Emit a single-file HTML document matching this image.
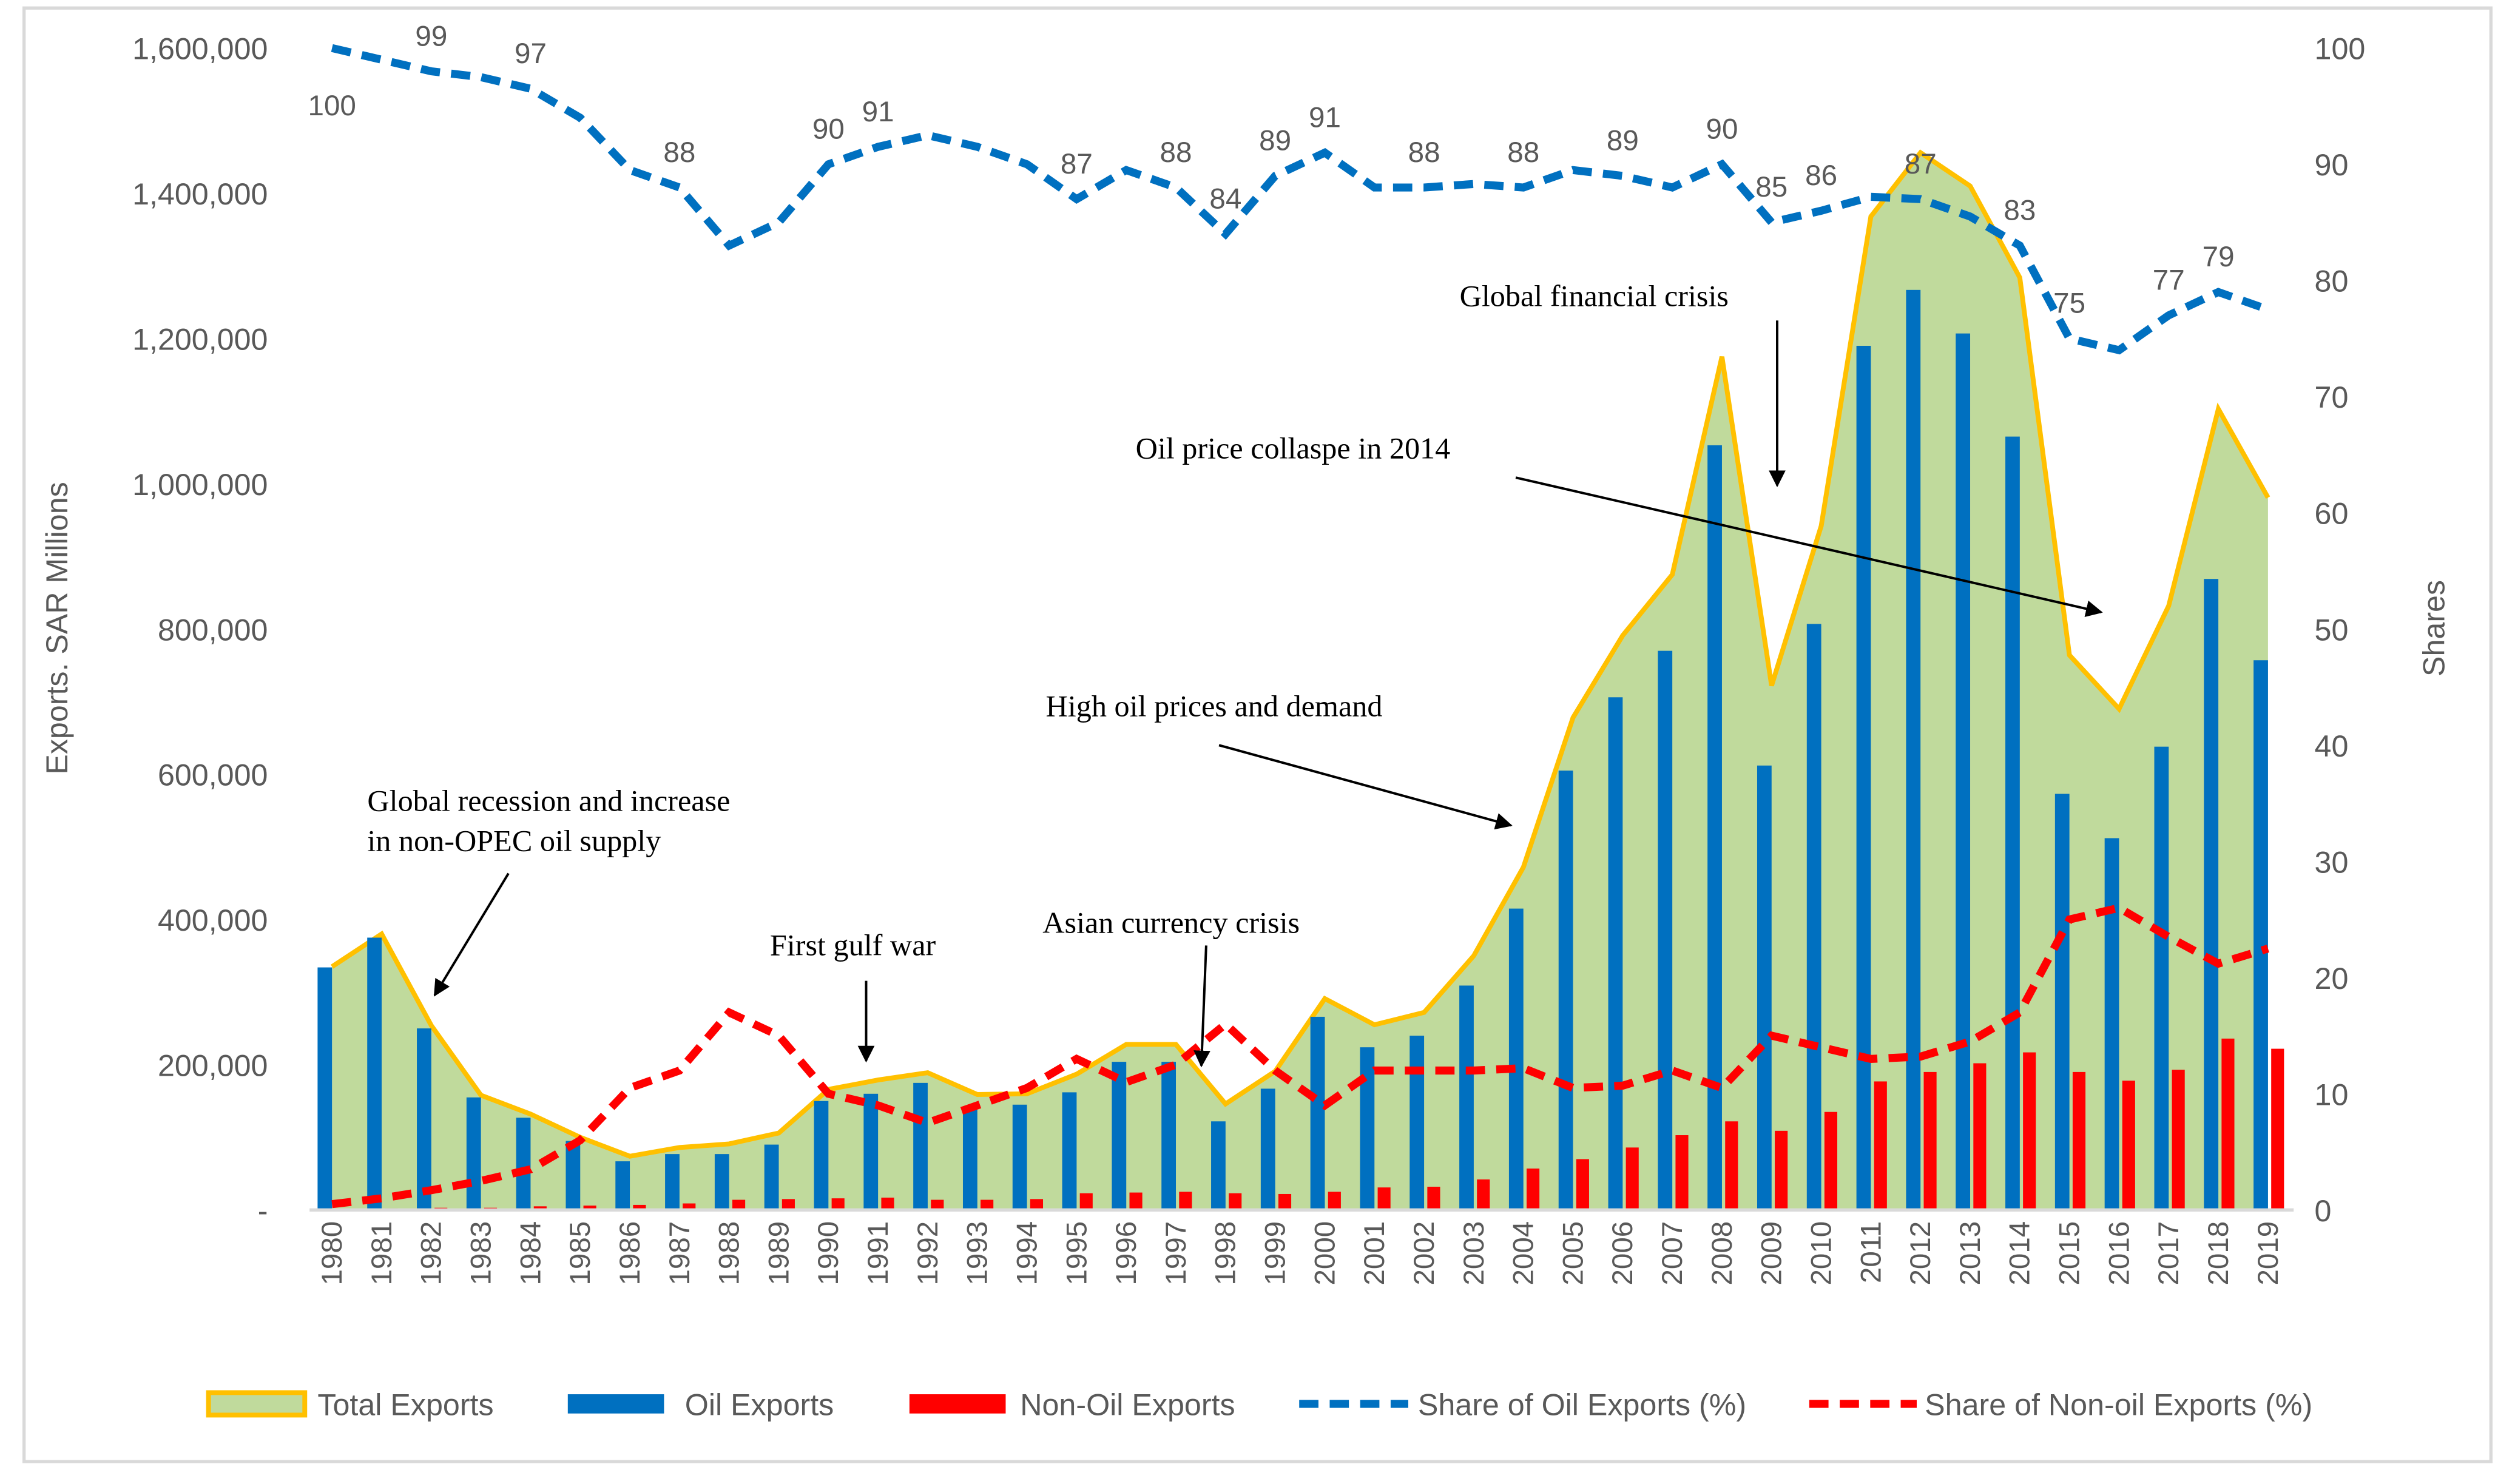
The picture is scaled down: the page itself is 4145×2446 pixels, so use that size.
<!DOCTYPE html>
<html><head><meta charset="utf-8"><style>
html,body{margin:0;padding:0;background:#fff;}
svg{display:block;}
.tk{font-family:"Liberation Sans",sans-serif;font-size:19px;fill:#595959;}
.xk{font-family:"Liberation Sans",sans-serif;font-size:18px;fill:#595959;}
.an{font-family:"Liberation Serif",serif;font-size:19px;fill:#000;}
.lg{font-family:"Liberation Sans",sans-serif;font-size:19px;fill:#595959;}
</style></head><body>
<svg id="chart" width="4145" height="2446" viewBox="0 0 1568 926" preserveAspectRatio="none" xmlns="http://www.w3.org/2000/svg">
<defs><marker id="ar" viewBox="0 0 10 10" refX="9" refY="5" markerWidth="7" markerHeight="7" orient="auto"><path d="M0,0L10,5L0,10z" fill="#000"/></marker></defs>
<rect x="15" y="5" width="1538" height="907" fill="#fff" stroke="#d9d9d9" stroke-width="2"/>
<g id="plot"></g>
<g>
<text class="an" x="229" y="506">Global recession and increase</text>
<text class="an" x="229" y="531">in non-OPEC oil supply</text>
<line x1="317" y1="545" x2="271" y2="621" stroke="#000" stroke-width="1.5" marker-end="url(#ar)"/>
<text class="an" x="480" y="596">First gulf war</text>
<line x1="540" y1="612" x2="540" y2="662" stroke="#000" stroke-width="1.5" marker-end="url(#ar)"/>
<text class="an" x="650" y="582">Asian currency crisis</text>
<line x1="752" y1="590" x2="749" y2="665" stroke="#000" stroke-width="1.5" marker-end="url(#ar)"/>
<text class="an" x="652" y="447">High oil prices and demand</text>
<line x1="760" y1="465" x2="942" y2="515" stroke="#000" stroke-width="1.5" marker-end="url(#ar)"/>
<text class="an" x="708" y="286">Oil price collaspe in 2014</text>
<line x1="945" y1="298" x2="1310" y2="382" stroke="#000" stroke-width="1.5" marker-end="url(#ar)"/>
<text class="an" x="910" y="191">Global financial  crisis</text>
<line x1="1108" y1="200" x2="1108" y2="303" stroke="#000" stroke-width="1.5" marker-end="url(#ar)"/>
</g>
<text class="tk" transform="translate(42,392) rotate(-90)" text-anchor="middle" style="font-size:19px">Exports. SAR Millions</text>
<text class="tk" transform="translate(1524,392) rotate(-90)" text-anchor="middle" style="font-size:19px">Shares</text>
<g>
<g><rect x="130" y="869" width="60" height="14" fill="#c0da9c" stroke="#ffc000" stroke-width="3"/><text class="lg" x="198" y="883">Total Exports</text></g>
<g><rect x="354" y="870" width="60" height="12" fill="#0070c0"/><text class="lg" x="427" y="883">Oil Exports</text></g>
<g><rect x="567" y="870" width="60" height="12" fill="#ff0000"/><text class="lg" x="636" y="883">Non-Oil Exports</text></g>
<g><line x1="810" y1="876" x2="878" y2="876" stroke="#0070c0" stroke-width="5" stroke-dasharray="12,7"/><text class="lg" x="884" y="883">Share of Oil Exports (%)</text></g>
<g><line x1="1128" y1="876" x2="1195" y2="876" stroke="#ff0000" stroke-width="5" stroke-dasharray="12,7"/><text class="lg" x="1200" y="883">Share of Non-oil Exports (%)</text></g>
</g>
</svg>
<script>
const years=[];for(let y=1980;y<=2019;y++)years.push(String(y));
const totalExports=[335,380,254,158,132,100,74,86,91,106,166,179,189,159,160,187,228,228,146,191,291,255,272,350,472,678,791,875,1175,722,942,1368,1456,1410,1284,764,690,832,1103,981];
const oilExports=[334,375,250,155,127,95,67,77,77,90,150,160,175,140,145,162,204,204,122,167,266,224,240,309,415,605,706,770,1053,612,807,1190,1267,1207,1065,573,512,638,869,757];
const nonOilExports=[1,2,3,3,5,6,7,9,14,15,16,17,14,14,15,23,24,25,23,22,25,31,32,42,57,70,86,103,122,109,135,177,190,202,217,190,178,193,236,222];
const oilShare=[100,99,98,97.5,96.5,94,89.5,88,83,85,90,91.5,92.5,91.5,90,87,89.5,88,84,89,91,88,88,88.3,88,89.5,89,88,90,85,86,87.2,87,85.5,83,75,74,77,79,77.5];
const nonOilShare=[0.5,1,1.7,2.5,3.5,6,10.5,12,17,15,10,9,7.5,9,10.5,13,11,12.5,16,12,9,12,12,12,12.2,10.5,10.7,12,10.5,15,14,13,13.2,14.5,17,25,26,23.5,21.2,22.5];
const shareLabelYears=["1980","1982","1984","1987","1990","1991","1995","1997","1998","1999","2000","2002","2004","2006","2008","2009","2010","2012","2014","2015","2017","2018"];
const shareLabelText=["100","99","97","88","90","91","87","88","84","89","91","88","88","89","90","85","86","87","83","75","77","79"];
const leftTicks=[0,200,400,600,800,1000,1200,1400,1600];
const rightTicks=[0,10,20,30,40,50,60,70,80,90,100];

const NS="http://www.w3.org/2000/svg";
const g=document.getElementById('plot');
const X0=207,X1=1414,Y0=755,Y1=30,PL=193,PR=1430;
const xs=i=>X0+i*(X1-X0)/(years.length-1);
const yL=v=>Y0-(v/1600)*(Y0-Y1);
const yR=v=>Y0-(v/100)*(Y0-Y1);
function mk(t,a){const e=document.createElementNS(NS,t);for(const k in a)e.setAttribute(k,a[k]);g.appendChild(e);return e;}
const fmt=v=>v===0?"-":(v*1000).toLocaleString('en-US');
leftTicks.forEach(v=>{const t=mk('text',{x:167,y:yL(v)+7,'text-anchor':'end',class:'tk'});t.textContent=fmt(v);

});
rightTicks.forEach(v=>{const t=mk('text',{x:1443,y:yR(v)+7,class:'tk'});t.textContent=v;

});
let d=`M${xs(0)},${Y0}`;totalExports.forEach((v,i)=>d+=`L${xs(i)},${yL(v)}`);d+=`L${xs(years.length-1)},${Y0}Z`;
const ar=mk('path',{d:d,fill:'#c0da9c',stroke:'none'});


let dl='';totalExports.forEach((v,i)=>dl+=(i?'L':'M')+xs(i)+','+yL(v));
const al=mk('path',{d:dl,fill:'none',stroke:'#ffc000','stroke-width':3});


oilExports.forEach((v,i)=>{const r=mk('rect',{x:xs(i)-9,y:yL(v),width:9,height:Y0-yL(v),fill:'#0070c0'});

});
nonOilExports.forEach((v,i)=>{const r=mk('rect',{x:xs(i)+2,y:yL(v),width:8,height:Y0-yL(v),fill:'#ff0000'});

});
const ax=mk('line',{x1:PL,y1:Y0,x2:PR,y2:Y0,stroke:'#d9d9d9','stroke-width':2});


years.forEach((y,i)=>{const t=mk('text',{transform:`translate(${xs(i)+6},762) rotate(-90)`,'text-anchor':'end',class:'xk'});t.textContent=y;

});
function line(arr,col,name){let p='';arr.forEach((v,i)=>p+=(i?'L':'M')+xs(i)+','+yR(v));
const e=mk('path',{d:p,fill:'none',stroke:col,'stroke-width':5,'stroke-dasharray':'12,7'});

}
line(oilShare,'#0070c0','share-oil-line');
line(nonOilShare,'#ff0000','share-non-oil-line');
shareLabelYears.forEach((y,k)=>{const i=years.indexOf(y);const v=oilShare[i];
const below=(y==="1980");
const t=mk('text',{x:xs(i),y:below?yR(v)+42:yR(v)-16,'text-anchor':'middle',class:'tk',style:'font-size:18px'});t.textContent=shareLabelText[k];

});
</script>
</body></html>
